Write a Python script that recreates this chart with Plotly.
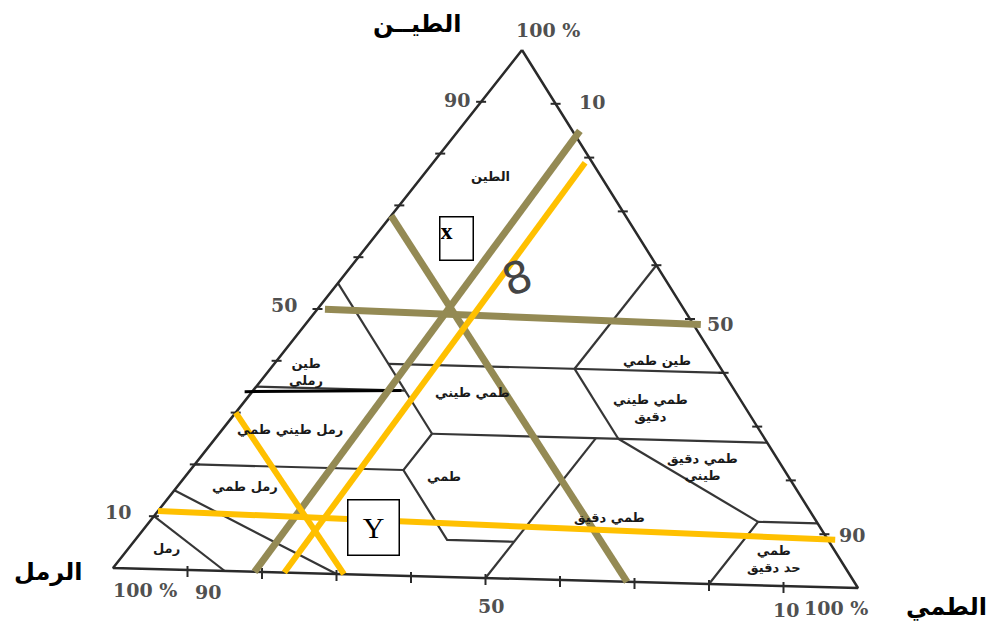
import plotly.graph_objects as go

# corners of the scanned triangle (x, y in page pixels): clay apex, sand corner, silt corner
CORNER_CLAY = (522, 50)
CORNER_SAND = (113, 568)
CORNER_SILT = (858, 588)

# texture class boundaries, each a polyline of (clay %, silt %)
texture_boundaries = [
    [(55, 0), (40, 15), (27, 28)],
    [(35, 0), (35, 20)],
    [(40, 15), (40, 60)],
    [(40, 40), (60, 40)],
    [(40, 40), (27, 53)],
    [(27, 28), (27, 73)],
    [(27, 28), (20, 28), (7, 41), (7, 50)],
    [(27, 50), (0, 50)],
    [(20, 0), (20, 28)],
    [(15, 0), (0, 30)],
    [(10, 0), (0, 15)],
    [(12, 88), (12, 80), (0, 80)],
    [(27, 53), (12, 80)],
]

# hand-drawn reading lines (clay %, silt %) at both ends
olive_lines = [
    [(0, 19), (85, 16)],
    [(68, 0), (0, 69)],
    [(50, 1), (49, 52)],
]
yellow_lines = [
    [(0, 23), (79, 20)],
    [(11, 0), (9, 92)],
    [(30, 0), (0, 31)],
]
black_lines = [
    [(34, -1), (35, 19.5)],
]

tick_values = [10, 20, 30, 40, 50, 60, 70, 80, 90]

# class names and where they sit (clay %, silt %)
class_names = ["الطين", "طين<br>رملي", "طمي طيني", "رمل طيني طمي", "رمل طمي", "رمل",
               "طمي", "طمي دقيق", "طين طمي", "طمي طيني<br>دقيق", "طمي دقيق<br>طيني",
               "طمي<br>حد دقيق"]
class_clay = [76, 38, 35, 27, 16, 4, 19, 12, 42, 33, 22, 5]
class_silt = [9, 5, 29, 9, 9, 5, 34, 60, 50, 54, 67, 86]


def to_xy(clay, silt):
    sand = 100 - clay - silt
    x = (clay * CORNER_CLAY[0] + sand * CORNER_SAND[0] + silt * CORNER_SILT[0]) / 100
    y = (clay * CORNER_CLAY[1] + sand * CORNER_SAND[1] + silt * CORNER_SILT[1]) / 100
    return x, y


def polylines_xy(lines):
    xs, ys = [], []
    for line in lines:
        for clay, silt in line:
            x, y = to_xy(clay, silt)
            xs.append(x)
            ys.append(y)
        xs.append(None)
        ys.append(None)
    return xs, ys


fig = go.Figure()

# class boundaries
bx, by = polylines_xy(texture_boundaries)
fig.add_trace(go.Scatter(x=bx, y=by, mode="lines", line=dict(color="#363636", width=2.2), hoverinfo="skip"))

# outer triangle
tx, ty = polylines_xy([[(100, 0), (0, 0), (0, 100), (100, 0)]])
fig.add_trace(go.Scatter(x=tx, y=ty, mode="lines", line=dict(color="#2a2a2a", width=2.5), hoverinfo="skip"))

# ticks on the three edges
kx, ky = [], []
for v in tick_values:
    x, y = to_xy(v, 0)  # left edge (clay)
    kx += [x - 5, x + 5, None]
    ky += [y, y, None]
    x, y = to_xy(100 - v, v)  # right edge (silt)
    kx += [x - 5, x + 5, None]
    ky += [y, y, None]
    x, y = to_xy(0, v)  # bottom edge (sand)
    kx += [x, x, None]
    ky += [y - 4, y + 7, None]
fig.add_trace(go.Scatter(x=kx, y=ky, mode="lines", line=dict(color="#2a2a2a", width=2), hoverinfo="skip"))

# reading lines
for lines, color, width in [(black_lines, "black", 3), (olive_lines, "#948A54", 7), (yellow_lines, "#FFC000", 6)]:
    lx, ly = polylines_xy(lines)
    fig.add_trace(go.Scatter(x=lx, y=ly, mode="lines", line=dict(color=color, width=width), hoverinfo="skip"))

# class names
for name, c, s in zip(class_names, class_clay, class_silt):
    x, y = to_xy(c, s)
    fig.add_annotation(x=x, y=y, text="<b>" + name + "</b>", showarrow=False,
                       font=dict(family="DejaVu Sans", size=13, color="#1a1a1a"))

# scribbled "8" on the scan
x8, y8 = to_xy(57, 23)
fig.add_annotation(x=x8, y=y8, text="8", showarrow=False, textangle=-20,
                   font=dict(family="DejaVu Sans", size=44, color="#444"))

# tick labels: (text, clay, silt, xshift, yshift)
tick_font = dict(family="DejaVu Serif", size=19, color="#505050")
tick_labels = [
    ("100 %", 100, 0, 26, 20),
    ("90", 90, 0, -24, 2),
    ("50", 50, 0, -34, 4),
    ("10", 10, 0, -36, 4),
    ("10", 90, 10, 36, 2),
    ("50", 50, 50, 30, -5),
    ("90", 10, 90, 28, -1),
    ("100 %", 0, 0, 32, -22),
    ("90", 0, 10, 20, -22),
    ("50", 0, 50, 5, -28),
    ("10", 0, 90, 2, -24),
    ("100 %", 0, 100, -22, -20),
]
for text, c, s, dx, dy in tick_labels:
    x, y = to_xy(c, s)
    fig.add_annotation(x=x, y=y, text="<b>" + text + "</b>", showarrow=False, xshift=dx, yshift=dy,
                       font=tick_font)

# boxed point labels
xb, yb = to_xy(64, 11)
fig.add_annotation(x=xb, y=yb, text="<b>x</b>", showarrow=False, width=32, height=42,
                   align="left", valign="top", bordercolor="black", borderwidth=1.5, borderpad=0,
                   bgcolor="white", font=dict(family="Liberation Serif", size=24, color="black"))
yb_x, yb_y = to_xy(9, 30)
fig.add_annotation(x=yb_x, y=yb_y, text="Y", showarrow=False, width=50, height=54,
                   bordercolor="black", borderwidth=1.5, borderpad=0, bgcolor="white",
                   font=dict(family="Liberation Serif", size=30, color="black"))

# axis names
title_font = dict(family="DejaVu Sans", size=24, color="black")
fig.add_annotation(x=417, y=24, text="<b>الطيــن</b>", showarrow=False, font=title_font)
fig.add_annotation(x=48, y=572, text="<b>الرمل</b>", showarrow=False, font=title_font)
fig.add_annotation(x=946, y=607, text="<b>الطمي</b>", showarrow=False, font=title_font)

# the page body has an 8px margin, so the plot sits at (8, 8); ranges keep units = page pixels
fig.update_layout(
    width=988,
    height=614,
    margin=dict(l=0, r=0, t=0, b=0),
    paper_bgcolor="white",
    plot_bgcolor="white",
    showlegend=False,
    xaxis=dict(range=[8, 996], visible=False, fixedrange=True),
    yaxis=dict(range=[622, 8], visible=False, fixedrange=True),
)

fig.write_html("out.html")
